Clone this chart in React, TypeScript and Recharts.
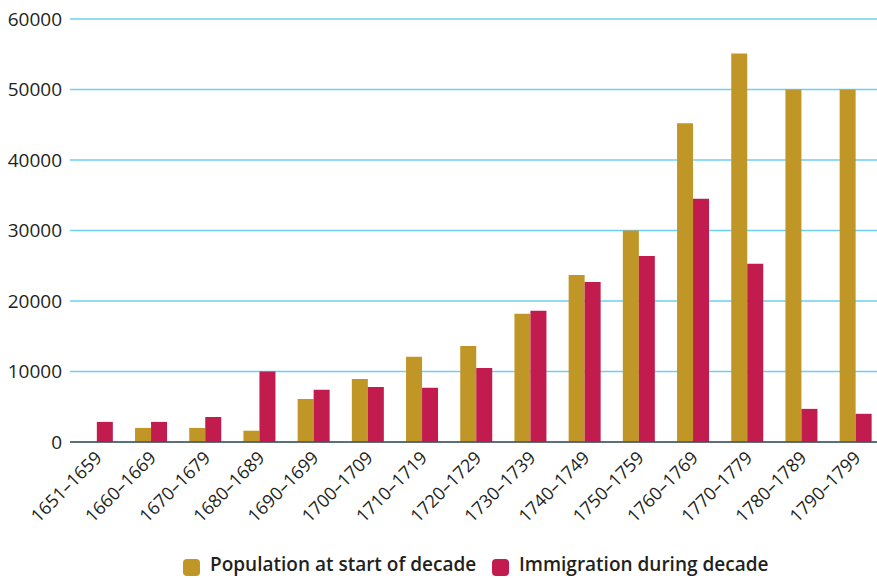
import React from 'react';
import { BarChart, Bar, XAxis, YAxis, CartesianGrid, Legend } from 'recharts';

const decades = [
  '1651–1659', '1660–1669', '1670–1679', '1680–1689', '1690–1699',
  '1700–1709', '1710–1719', '1720–1729', '1730–1739', '1740–1749',
  '1750–1759', '1760–1769', '1770–1779', '1780–1789', '1790–1799',
];
const population = [null, 2000, 2000, 1600, 6100, 8950, 12100, 13600, 18200, 23700, 30000, 45200, 55100, 50000, 50000];
const immigration = [2850, 2850, 3550, 10000, 7400, 7800, 7700, 10500, 18600, 22700, 26400, 34500, 25300, 4700, 4000];
const yTicks = [0, 10000, 20000, 30000, 40000, 50000, 60000];

const GOLD = '#c09626';
const CRIMSON = '#c21c4e';
const TEXT = '#231f20';
const FONT = '"Open Sans", sans-serif';

const data = decades.map((decade, i) => ({
  decade,
  population: population[i],
  immigration: immigration[i],
}));

const DecadeTick = ({ x, y, payload }: any) => (
  <g transform={`translate(${x + 6},${y + 9})`}>
    <text x={0} y={0} textAnchor="end" transform="rotate(-45)" fill={TEXT} fontSize={18} fontFamily={FONT}>
      {payload.value}
    </text>
  </g>
);

const legendItems = [
  { label: 'Population at start of decade', color: GOLD, left: 183 },
  { label: 'Immigration during decade', color: CRIMSON, left: 492 },
];

const ChartLegend = () => (
  <div style={{ position: 'relative', height: 50, width: 877 }}>
    {legendItems.map((item) => (
      <div
        key={item.label}
        style={{ position: 'absolute', left: item.left, top: 27, height: 18, display: 'flex', alignItems: 'center' }}
      >
        <span
          style={{
            width: 17,
            height: 17,
            borderRadius: 4,
            background: item.color,
            display: 'inline-block',
            position: 'relative',
            top: 3,
          }}
        />
        <span
          style={{
            marginLeft: 10,
            fontFamily: FONT,
            fontWeight: 600,
            fontSize: 19,
            lineHeight: '18px',
            color: TEXT,
            whiteSpace: 'nowrap',
          }}
        >
          {item.label}
        </span>
      </div>
    ))}
  </div>
);

export default function App() {
  return (
    <div style={{ position: 'absolute', left: 0, top: 0, width: 877, height: 578, overflow: 'hidden', background: '#fff' }}>
      <BarChart
        width={885}
        height={578}
        data={data}
        margin={{ top: 19, right: 2, left: 0, bottom: 0 }}
        barCategoryGap="20%"
        barGap={0}
      >
        <CartesianGrid vertical={false} stroke="#6dcff6" strokeWidth={1.5} />
        <XAxis
          dataKey="decade"
          interval={0}
          height={86}
          tickLine={false}
          axisLine={{ stroke: '#4d4d4f', strokeWidth: 1.5 }}
          tick={<DecadeTick />}
        />
        <YAxis
          width={70}
          domain={[0, 60000]}
          ticks={yTicks}
          tickLine={false}
          axisLine={false}
          tick={{ fill: TEXT, fontSize: 19, fontFamily: FONT }}
        />
        <Legend verticalAlign="bottom" height={50} content={<ChartLegend />} wrapperStyle={{ left: 0, width: 877 }} />
        <Bar dataKey="population" fill={GOLD} isAnimationActive={false} />
        <Bar dataKey="immigration" fill={CRIMSON} isAnimationActive={false} />
      </BarChart>
    </div>
  );
}
